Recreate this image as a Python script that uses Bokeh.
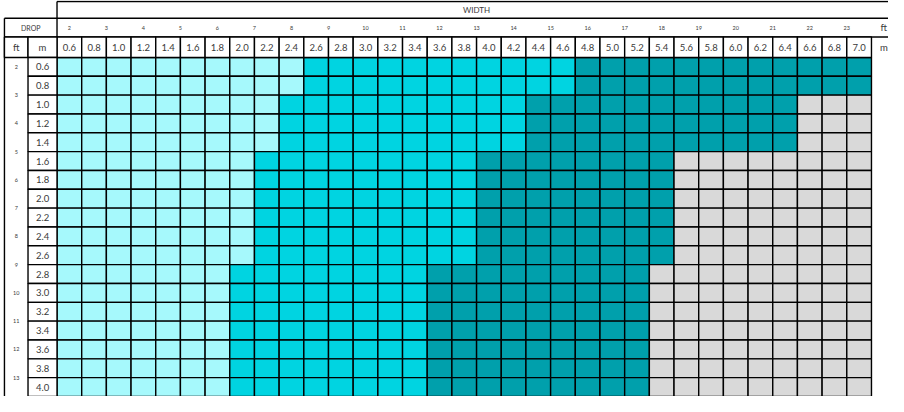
from bokeh.plotting import figure
from bokeh.models import Range1d
from bokeh.embed import file_html
from bokeh.resources import INLINE
from bokeh.core.properties import value

# ---- data ----
width_m = [0.6, 0.8, 1.0, 1.2, 1.4, 1.6, 1.8, 2.0, 2.2, 2.4, 2.6, 2.8, 3.0, 3.2, 3.4, 3.6, 3.8,
           4.0, 4.2, 4.4, 4.6, 4.8, 5.0, 5.2, 5.4, 5.6, 5.8, 6.0, 6.2, 6.4, 6.6, 6.8, 7.0]
width_ft = [2, 3, 4, 5, 6, 7, 8, 9, 10, 11, 12, 13, 14, 15, 16, 17, 18, 19, 20, 21, 22, 23]
drop_m = [0.6, 0.8, 1.0, 1.2, 1.4, 1.6, 1.8, 2.0, 2.2, 2.4, 2.6, 2.8, 3.0, 3.2, 3.4, 3.6, 3.8, 4.0]
drop_ft = [2, 3, 4, 5, 6, 7, 8, 9, 10, 11, 12, 13]
ft_to_m = 0.3  # chart's own rounding: 1 ft ~ 0.3 m for label placement

# first width (m) of each band per drop row (None = band absent)
cyan_from = [2.6, 2.6, 2.4, 2.4, 2.4, 2.2, 2.2, 2.2, 2.2, 2.2, 2.2, 2.0, 2.0, 2.0, 2.0, 2.0, 2.0, 2.0]
teal_from = [4.8, 4.8, 4.4, 4.4, 4.4, 4.0, 4.0, 4.0, 4.0, 4.0, 4.0, 3.6, 3.6, 3.6, 3.6, 3.6, 3.6, 3.6]
gray_from = [None, None, 6.6, 6.6, 6.6, 5.6, 5.6, 5.6, 5.6, 5.6, 5.6, 5.4, 5.4, 5.4, 5.4, 5.4, 5.4, 5.4]

band_colors = {"light": "#a6f9fc", "cyan": "#00d4e1", "teal": "#00a0ac", "gray": "#d9d9d9"}

FONT = value("Lato")
TXT = "#3a3a3a"

# ---- build cells ----
cx, cy, cf = [], [], []
for d, c, t, g in zip(drop_m, cyan_from, teal_from, gray_from):
    for w in width_m:
        if g is not None and w >= g - 1e-9:
            band = "gray"
        elif w >= t - 1e-9:
            band = "teal"
        elif w >= c - 1e-9:
            band = "cyan"
        else:
            band = "light"
        cx.append(w)
        cy.append(d)
        cf.append(band_colors[band])

# layout geometry (data units, metres)
FT_L, FT_R, M_R = 0.074, 0.265, 0.5
TOP, DROP_T, HDR_T, HDR_B = -0.095, 0.083, 0.283, 0.5
RIGHT_COL = 7.2
X_END = 7.4
Y_END = 4.1

p = figure(width=888, height=396, x_range=Range1d(0.042, 7.238), y_range=Range1d(4.1, -0.105),
           output_backend="svg", toolbar_location=None, min_border=0)
p.axis.visible = False
p.grid.visible = False
p.outline_line_color = None
p.background_fill_color = "white"

LW = 1.4

# structural lines
p.segment(x0=[M_R, FT_L, FT_L, FT_L, M_R],
          y0=[TOP, DROP_T, HDR_T, DROP_T, TOP],
          x1=[X_END, X_END, X_END, FT_L, M_R],
          y1=[TOP, DROP_T, HDR_T, Y_END, HDR_T],
          line_color="black", line_width=LW)

# data cells
p.rect(x=cx, y=cy, width=0.2, height=0.2, fill_color=cf, line_color="black", line_width=LW)

# header width (m) cells
hy = (HDR_T + HDR_B) / 2
hh = HDR_B - HDR_T
p.rect(x=width_m, y=[hy] * len(width_m), width=0.2, height=hh,
       fill_color="white", line_color="black", line_width=LW)
# ft / m header cells
p.rect(x=[(FT_L + FT_R) / 2, (FT_R + M_R) / 2], y=[hy, hy], width=[FT_R - FT_L, M_R - FT_R],
       height=hh, fill_color="white", line_color="black", line_width=LW)
# left drop (m) cells
p.rect(x=[(FT_R + M_R) / 2] * len(drop_m), y=drop_m, width=M_R - FT_R, height=0.2,
       fill_color="white", line_color="black", line_width=LW)

# texts
p.text(x=width_m, y=[hy] * len(width_m), text=[f"{w:.1f}" for w in width_m],
       text_align="center", text_baseline="middle", text_font=FONT,
       text_font_size="9.5px", text_color=TXT)
p.text(x=[(FT_R + M_R) / 2] * len(drop_m), y=drop_m, text=[f"{d:.1f}" for d in drop_m],
       text_align="center", text_baseline="middle", text_font=FONT,
       text_font_size="9.5px", text_color=TXT)
drop_row_y = (DROP_T + HDR_T) / 2
p.text(x=[ft_to_m * f for f in width_ft], y=[drop_row_y] * len(width_ft),
       text=[str(f) for f in width_ft], text_align="center", text_baseline="middle",
       text_font=FONT, text_font_size="5.5px", text_color=TXT)
p.text(x=[(FT_L + FT_R) / 2] * len(drop_ft), y=[ft_to_m * f for f in drop_ft],
       text=[str(f) for f in drop_ft], text_align="center", text_baseline="middle",
       text_font=FONT, text_font_size="5.5px", text_color=TXT)
p.text(x=[(FT_L + M_R) / 2], y=[drop_row_y], text=["DROP"], text_align="center",
       text_baseline="middle", text_font=FONT, text_font_size="7px", text_color=TXT)
p.text(x=[(width_m[0] + RIGHT_COL) / 2], y=[(TOP + DROP_T) / 2], text=["WIDTH"],
       text_align="center", text_baseline="middle", text_font=FONT,
       text_font_size="8px", text_color=TXT)
p.text(x=[(FT_L + FT_R) / 2, (FT_R + M_R) / 2, RIGHT_COL, RIGHT_COL],
       y=[hy, hy, drop_row_y, hy], text=["ft", "m", "ft", "m"],
       text_align="center", text_baseline="middle", text_font=FONT,
       text_font_size="9.5px", text_color=TXT)

open("out.html", "w").write(file_html(p, INLINE))
